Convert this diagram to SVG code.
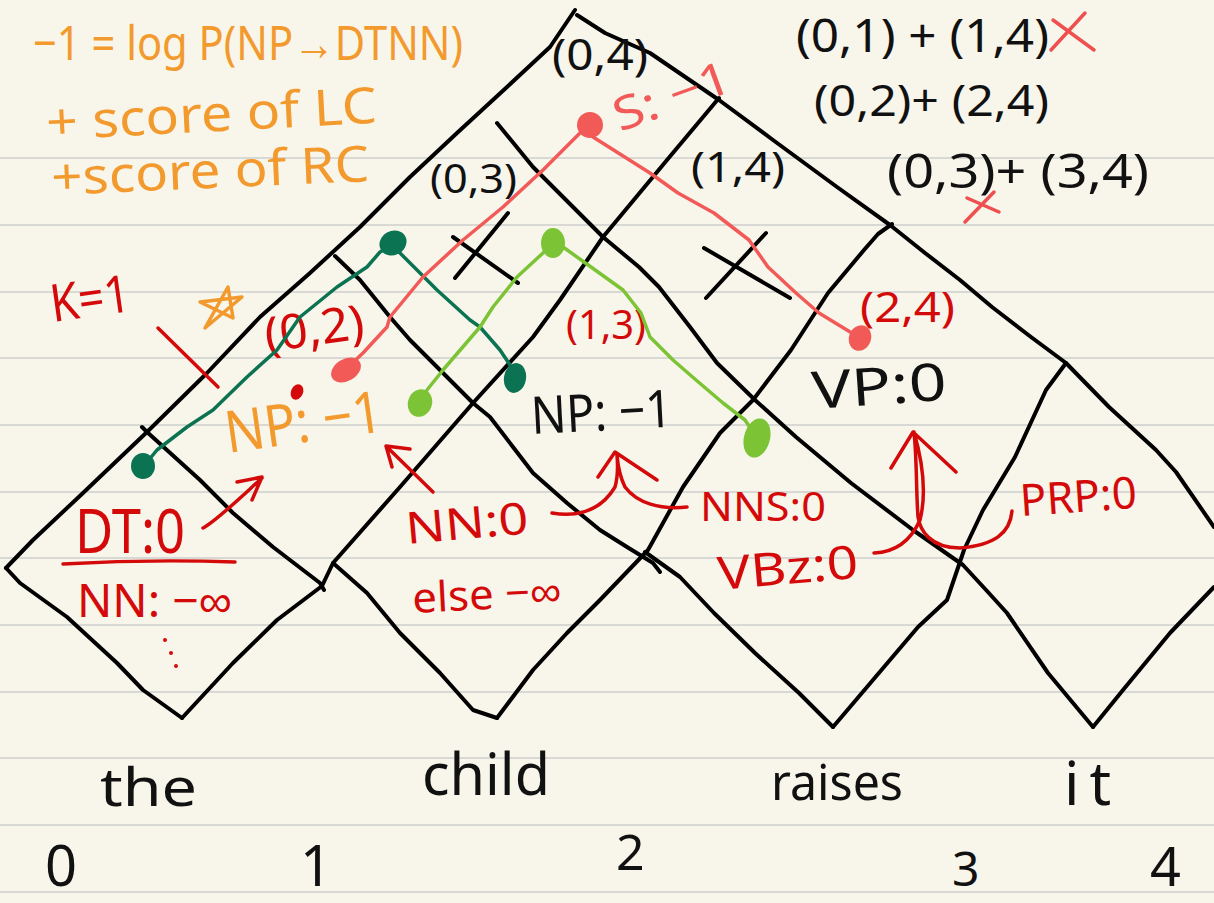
<svg xmlns="http://www.w3.org/2000/svg" width="1214" height="903" viewBox="0 0 1214 903">
<style>
.rule{stroke:#d8d8d4;stroke-width:2}
.ink{fill:none;stroke:#000;stroke-width:4;stroke-linecap:round;stroke-linejoin:round}
.t{font-family:"Noto Sans","Liberation Sans",sans-serif;}
.k{fill:#111}
.r{fill:#d40a0a}
.o{fill:#f39a2e}
.s{fill:#f25a58}
.rs{fill:none;stroke:#d40a0a;stroke-width:3.5;stroke-linecap:round;stroke-linejoin:round}
.os{fill:none;stroke:#f39a2e;stroke-width:3.5;stroke-linecap:round;stroke-linejoin:round}
.xs{fill:none;stroke:#ef4f4f;stroke-width:3.5;stroke-linecap:round}
.dg{fill:none;stroke:#0b7352;stroke-width:3.5;stroke-linecap:round;stroke-linejoin:round}
.lg{fill:none;stroke:#7cc435;stroke-width:3.5;stroke-linecap:round;stroke-linejoin:round}
.sl{fill:none;stroke:#f25a58;stroke-width:3.5;stroke-linecap:round;stroke-linejoin:round}
</style>
<rect width="1214" height="903" fill="#f8f6eb"/>
<g id="paper-rules">
<line class="rule" x1="0" y1="158" x2="1214" y2="158"/>
<line class="rule" x1="0" y1="225" x2="1214" y2="225"/>
<line class="rule" x1="0" y1="292" x2="1214" y2="292"/>
<line class="rule" x1="0" y1="358" x2="1214" y2="358"/>
<line class="rule" x1="0" y1="425" x2="1214" y2="425"/>
<line class="rule" x1="0" y1="492" x2="1214" y2="492"/>
<line class="rule" x1="0" y1="558" x2="1214" y2="558"/>
<line class="rule" x1="0" y1="625" x2="1214" y2="625"/>
<line class="rule" x1="0" y1="692" x2="1214" y2="692"/>
<line class="rule" x1="0" y1="758" x2="1214" y2="758"/>
<line class="rule" x1="0" y1="825" x2="1214" y2="825"/>
<line class="rule" x1="0" y1="892" x2="1214" y2="892"/>
</g>
<g id="chart">
<polyline class="ink" points="6,568 33,540 83,493 147,432 207,373 260,317 310,273 360,227 410,177 457,133 507,87 550,47 575,10"/>
<polyline class="ink" points="577,15 605,33 650,53 719,100 773,140 837,187 890,225 925,253 960,280 992,307 1031,337 1066,363 1109,407 1156,450 1176,472 1214,527"/>
<polyline class="ink" points="6,568 20,583 67,617 117,663 143,690 182,718"/>
<polyline class="ink" points="182,718 233,663 277,620 322,586 333,563 400,487 473,403 533,337 560,300 603,237 667,160 719,98"/>
<polyline class="ink" points="142,427 147,432 200,480 233,513 273,547 320,583 324,590"/>
<polyline class="ink" points="333,563 367,593 400,633 440,673 473,710 497,718"/>
<polyline class="ink" points="335,256 360,280 390,317 410,340 447,377 473,403 490,417 513,447 533,473 567,503 600,530 627,547 653,563 660,572"/>
<polyline class="ink" points="645,552 680,577 714,613 755,653 799,693 833,727"/>
<polyline class="ink" points="497,718 533,670 567,633 600,600 648,550 683,487 720,433 753,400 791,350 828,293 864,250 878,234 892,224"/>
<polyline class="ink" points="497,123 533,167 603,237 639,267 659,287 690,327 717,363 755,400 796,437 851,483 913,530 963,565 987,591 1007,613 1048,673 1093,727"/>
<polyline class="ink" points="833,727 884,667 918,627 947,600 964,550 983,510 1015,457 1046,390 1066,363"/>
<polyline class="ink" points="1093,727 1123,690 1170,633 1214,587"/>
<path class="ink" d="M453,237 L518,283 M508,213 L455,278"/>
<path class="ink" d="M704,248 L790,298 M766,233 L706,298"/>
</g>
<g id="cell-labels">
<text class="t k" x="552" y="70" font-size="44" textLength="96" lengthAdjust="spacingAndGlyphs">(0,4)</text>
<text class="t k" x="430" y="193" font-size="40" textLength="87" lengthAdjust="spacingAndGlyphs">(0,3)</text>
<text class="t k" x="691" y="182" font-size="42" textLength="94" lengthAdjust="spacingAndGlyphs">(1,4)</text>
<text class="t k" x="532" y="434" font-size="52" textLength="141" lengthAdjust="spacingAndGlyphs" transform="rotate(-3 532 434)">NP: −1</text>
<text class="t k" x="813" y="409" font-size="52" textLength="135" lengthAdjust="spacingAndGlyphs" transform="rotate(-4 813 409)">VP:0</text>
<text class="t r" x="566" y="339" font-size="40" textLength="80" lengthAdjust="spacingAndGlyphs">(1,3)</text>
<text class="t r" x="860" y="322" font-size="42" textLength="95" lengthAdjust="spacingAndGlyphs">(2,4)</text>
<text class="t r" x="267" y="352" font-size="48" textLength="100" lengthAdjust="spacingAndGlyphs" transform="rotate(-8 267 352)">(0,2)</text>
<text class="t s" x="620" y="132" font-size="46" textLength="122" lengthAdjust="spacingAndGlyphs" transform="rotate(-20 620 132)">S: −1</text>
<text class="t o" x="228" y="453" font-size="58" textLength="158" lengthAdjust="spacingAndGlyphs" transform="rotate(-8 228 453)">NP: −1</text>
<text class="t r" x="75" y="553" font-size="62" textLength="110" lengthAdjust="spacingAndGlyphs">DT:0</text>
<path class="rs" d="M63,564 Q150,559 235,562"/>
<text class="t r" x="77" y="617" font-size="46" textLength="155" lengthAdjust="spacingAndGlyphs">NN: −∞</text>
<circle cx="165" cy="640" r="2" fill="#d40a0a"/>
<circle cx="171" cy="653" r="2" fill="#d40a0a"/>
<circle cx="176" cy="666" r="2" fill="#d40a0a"/>
<text class="t r" x="407" y="544" font-size="44" textLength="123" lengthAdjust="spacingAndGlyphs" transform="rotate(-5 407 544)">NN:0</text>
<text class="t r" x="413" y="613" font-size="42" textLength="149" lengthAdjust="spacingAndGlyphs" transform="rotate(-3 413 613)">else −∞</text>
<text class="t r" x="700" y="521" font-size="40" textLength="126" lengthAdjust="spacingAndGlyphs">NNS:0</text>
<text class="t r" x="719" y="590" font-size="46" textLength="141" lengthAdjust="spacingAndGlyphs" transform="rotate(-5 719 590)">VBz:0</text>
<text class="t r" x="1021" y="516" font-size="44" textLength="117" lengthAdjust="spacingAndGlyphs" transform="rotate(-4 1021 516)">PRP:0</text>
<text class="t r" x="53" y="322" font-size="52" textLength="80" lengthAdjust="spacingAndGlyphs" transform="rotate(-8 53 322)">K=1</text>
<path class="rs" d="M158,328 L218,387"/>
</g>
<g id="notes">
<text class="t o" x="33" y="60" font-size="48" textLength="430" lengthAdjust="spacingAndGlyphs">−1 = log P(NP→DTNN)</text>
<text class="t o" x="47" y="140" font-size="50" textLength="331" lengthAdjust="spacingAndGlyphs" transform="rotate(-3 47 140)">+ score of LC</text>
<text class="t o" x="52" y="195" font-size="50" textLength="318" lengthAdjust="spacingAndGlyphs" transform="rotate(-2.5 52 195)">+score  of RC</text>
<path class="os" d="M205,328 L228,287 L233,318 L200,302 L242,297 Z"/>
<text class="t k" x="796" y="52" font-size="46" textLength="253" lengthAdjust="spacingAndGlyphs">(0,1) + (1,4)</text>
<text class="t k" x="814" y="116" font-size="44" textLength="235" lengthAdjust="spacingAndGlyphs">(0,2)+ (2,4)</text>
<text class="t k" x="887" y="188" font-size="48" textLength="262" lengthAdjust="spacingAndGlyphs">(0,3)+ (3,4)</text>
<path class="xs" d="M1051,50 L1085,13 M1053,20 L1094,50"/>
<path class="xs" d="M965,222 L994,192 M967,198 L999,212"/>
</g>
<g id="words">
<text class="t k" x="100" y="806" font-size="52" textLength="97" lengthAdjust="spacingAndGlyphs">the</text>
<text class="t k" x="422" y="795" font-size="58" textLength="128" lengthAdjust="spacingAndGlyphs">child</text>
<text class="t k" x="771" y="800" font-size="50" textLength="132" lengthAdjust="spacingAndGlyphs">raises</text>
<text class="t k" x="1064" y="805" font-size="60" letter-spacing="10">it</text>
<text class="t k" x="45" y="886" font-size="56">0</text>
<text class="t k" x="300" y="886" font-size="56">1</text>
<text class="t k" x="616" y="870" font-size="50">2</text>
<text class="t k" x="952" y="886" font-size="48">3</text>
<text class="t k" x="1150" y="886" font-size="54">4</text>
</g>
<g id="connectors">
<polyline class="dg" points="393,245 380,252 367,267 337,287 300,317 277,350 247,377 213,410 187,427 157,450 143,467"/>
<polyline class="dg" points="393,245 400,253 437,290 470,320 480,327 500,350 510,365 515,378"/>
<polyline class="sl" points="590,125 580,133 543,170 503,207 463,240 423,277 390,317 387,327 363,353 345,370"/>
<polyline class="sl" points="590,125 593,137 650,173 678,193 714,213 749,240 768,267 796,293 819,313 860,338"/>
<polyline class="lg" points="553,243 543,253 517,277 493,307 480,327 443,370 427,390 420,403"/>
<polyline class="lg" points="553,243 563,247 591,267 623,290 641,313 650,337 673,360 696,380 723,403 745,420 757,438"/>
<ellipse cx="393" cy="243" rx="14" ry="12" transform="rotate(-30 393 243)" fill="#0b7352"/>
<ellipse cx="143" cy="466" rx="12" ry="13" fill="#0b7352"/>
<ellipse cx="515" cy="378" rx="11" ry="15" transform="rotate(10 515 378)" fill="#0b7352"/>
<ellipse cx="590" cy="125" rx="13" ry="13" fill="#f25a58"/>
<ellipse cx="346" cy="370" rx="16" ry="11" transform="rotate(-30 346 370)" fill="#f25a58"/>
<ellipse cx="860" cy="338" rx="11" ry="13" transform="rotate(20 860 338)" fill="#f25a58"/>
<ellipse cx="553" cy="243" rx="12" ry="15" fill="#7cc435"/>
<ellipse cx="420" cy="403" rx="12" ry="14" transform="rotate(20 420 403)" fill="#7cc435"/>
<ellipse cx="757" cy="438" rx="13" ry="20" transform="rotate(15 757 438)" fill="#7cc435"/>
<ellipse cx="297" cy="392" rx="6" ry="8" transform="rotate(25 297 392)" fill="#d40a0a"/>
</g>
<g id="arrows">
<path class="rs" d="M203,528 C215,522 240,498 262,478 M237,482 L262,477 L252,500"/>
<path class="rs" d="M433,492 L388,448 M410,449 L386,446 L392,467"/>
<path class="rs" d="M552,513 C583,518 603,507 615,487 C618,477 618,467 617,455 M687,507 C660,510 637,503 625,487 C620,477 618,467 617,455 M598,477 L615,452 L657,480"/>
<path class="rs" d="M874,553 C898,552 912,538 920,520 C925,500 925,470 914,432 M1012,511 C1010,533 995,545 960,548 C930,548 920,530 918,517 C916,490 917,460 914,432 M891,468 L913,432 L956,472"/>
</g>
</svg>
